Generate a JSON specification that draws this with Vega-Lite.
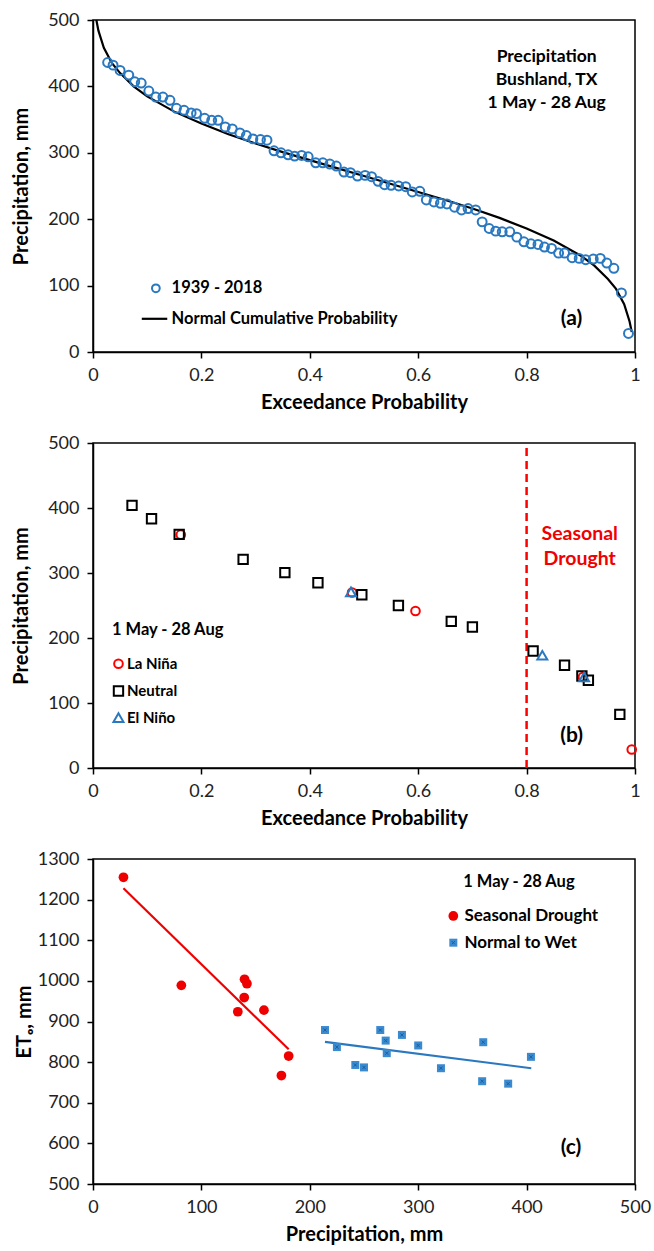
{
  "$schema": "https://vega.github.io/schema/vega-lite/v6.json",
  "background": "white",
  "padding": {"left": 10, "top": 10, "right": 10, "bottom": 5},
  "spacing": 91,
  "bounds": "flush",
  "config": {
    "font": "Lato",
    "view": {"stroke": "#000", "strokeWidth": 1.5},
    "axis": {
      "grid": false,
      "domainColor": "#000",
      "domainWidth": 1.5,
      "tickColor": "#000",
      "tickWidth": 1.5,
      "tickSize": 6,
      "labelFont": "Lato",
      "labelFontSize": 18,
      "labelColor": "#222",
      "labelPadding": 8,
      "labelFlush": false,
      "titleFont": "Lato",
      "titleFontSize": 20,
      "titleFontWeight": "bold",
      "titleColor": "#000"
    },
    "text": {"font": "Lato", "fontWeight": "bold", "color": "#000"}
  },
  "datasets": {
    "ranked": [
      {"prob": 0.027, "precip": 436}, {"prob": 0.037, "precip": 432}, {"prob": 0.05, "precip": 424},
      {"prob": 0.066, "precip": 417}, {"prob": 0.077, "precip": 407}, {"prob": 0.089, "precip": 405},
      {"prob": 0.103, "precip": 393}, {"prob": 0.116, "precip": 384}, {"prob": 0.129, "precip": 384},
      {"prob": 0.142, "precip": 379}, {"prob": 0.154, "precip": 367}, {"prob": 0.168, "precip": 364},
      {"prob": 0.181, "precip": 360}, {"prob": 0.191, "precip": 359}, {"prob": 0.206, "precip": 352},
      {"prob": 0.219, "precip": 349}, {"prob": 0.231, "precip": 349}, {"prob": 0.244, "precip": 339},
      {"prob": 0.257, "precip": 336}, {"prob": 0.271, "precip": 330}, {"prob": 0.283, "precip": 326},
      {"prob": 0.295, "precip": 321}, {"prob": 0.309, "precip": 320}, {"prob": 0.321, "precip": 319},
      {"prob": 0.334, "precip": 303}, {"prob": 0.347, "precip": 300}, {"prob": 0.36, "precip": 297},
      {"prob": 0.372, "precip": 295}, {"prob": 0.385, "precip": 296}, {"prob": 0.397, "precip": 294},
      {"prob": 0.411, "precip": 285}, {"prob": 0.424, "precip": 285}, {"prob": 0.437, "precip": 283},
      {"prob": 0.449, "precip": 280}, {"prob": 0.463, "precip": 271}, {"prob": 0.475, "precip": 270},
      {"prob": 0.488, "precip": 265}, {"prob": 0.502, "precip": 266}, {"prob": 0.514, "precip": 264},
      {"prob": 0.526, "precip": 257}, {"prob": 0.538, "precip": 252}, {"prob": 0.55, "precip": 251},
      {"prob": 0.564, "precip": 250}, {"prob": 0.577, "precip": 249}, {"prob": 0.589, "precip": 241},
      {"prob": 0.603, "precip": 242}, {"prob": 0.615, "precip": 229}, {"prob": 0.629, "precip": 226},
      {"prob": 0.641, "precip": 224}, {"prob": 0.653, "precip": 223}, {"prob": 0.667, "precip": 218},
      {"prob": 0.68, "precip": 214}, {"prob": 0.692, "precip": 216}, {"prob": 0.706, "precip": 214},
      {"prob": 0.718, "precip": 196}, {"prob": 0.731, "precip": 186}, {"prob": 0.743, "precip": 182},
      {"prob": 0.755, "precip": 181}, {"prob": 0.769, "precip": 181}, {"prob": 0.782, "precip": 173},
      {"prob": 0.795, "precip": 166}, {"prob": 0.808, "precip": 163}, {"prob": 0.821, "precip": 162},
      {"prob": 0.833, "precip": 158}, {"prob": 0.846, "precip": 156}, {"prob": 0.859, "precip": 149},
      {"prob": 0.87, "precip": 149}, {"prob": 0.884, "precip": 142}, {"prob": 0.897, "precip": 141},
      {"prob": 0.909, "precip": 139}, {"prob": 0.923, "precip": 140}, {"prob": 0.936, "precip": 141},
      {"prob": 0.948, "precip": 134}, {"prob": 0.961, "precip": 126}, {"prob": 0.975, "precip": 89},
      {"prob": 0.988, "precip": 28}
    ],
    "normalFit": [
      {"prob": 0.0062, "precip": 500}, {"prob": 0.01, "precip": 484}, {"prob": 0.02, "precip": 458},
      {"prob": 0.035, "precip": 435}, {"prob": 0.05, "precip": 420}, {"prob": 0.075, "precip": 400},
      {"prob": 0.1, "precip": 385}, {"prob": 0.15, "precip": 362}, {"prob": 0.2, "precip": 344},
      {"prob": 0.25, "precip": 328}, {"prob": 0.3, "precip": 314}, {"prob": 0.35, "precip": 301},
      {"prob": 0.4, "precip": 289}, {"prob": 0.45, "precip": 277}, {"prob": 0.5, "precip": 265},
      {"prob": 0.55, "precip": 253}, {"prob": 0.6, "precip": 241}, {"prob": 0.65, "precip": 229},
      {"prob": 0.7, "precip": 216}, {"prob": 0.75, "precip": 202}, {"prob": 0.8, "precip": 186},
      {"prob": 0.85, "precip": 168}, {"prob": 0.9, "precip": 145}, {"prob": 0.925, "precip": 130},
      {"prob": 0.95, "precip": 110}, {"prob": 0.965, "precip": 95}, {"prob": 0.98, "precip": 72},
      {"prob": 0.99, "precip": 46}, {"prob": 0.994, "precip": 30}
    ],
    "enso": [
      {"prob": 0.162, "precip": 359, "enso": "La Niña"},
      {"prob": 0.478, "precip": 270, "enso": "La Niña"},
      {"prob": 0.595, "precip": 241.5, "enso": "La Niña"},
      {"prob": 0.904, "precip": 140, "enso": "La Niña"},
      {"prob": 0.994, "precip": 28.5, "enso": "La Niña"},
      {"prob": 0.072, "precip": 404, "enso": "Neutral"},
      {"prob": 0.108, "precip": 383.5, "enso": "Neutral"},
      {"prob": 0.159, "precip": 359.5, "enso": "Neutral"},
      {"prob": 0.277, "precip": 321, "enso": "Neutral"},
      {"prob": 0.354, "precip": 300.5, "enso": "Neutral"},
      {"prob": 0.415, "precip": 285, "enso": "Neutral"},
      {"prob": 0.496, "precip": 266.5, "enso": "Neutral"},
      {"prob": 0.5635, "precip": 250, "enso": "Neutral"},
      {"prob": 0.661, "precip": 225.5, "enso": "Neutral"},
      {"prob": 0.7, "precip": 217, "enso": "Neutral"},
      {"prob": 0.812, "precip": 180, "enso": "Neutral"},
      {"prob": 0.87, "precip": 158, "enso": "Neutral"},
      {"prob": 0.902, "precip": 141.5, "enso": "Neutral"},
      {"prob": 0.914, "precip": 135, "enso": "Neutral"},
      {"prob": 0.972, "precip": 82.5, "enso": "Neutral"},
      {"prob": 0.476, "precip": 271, "enso": "El Niño"},
      {"prob": 0.829, "precip": 173.5, "enso": "El Niño"},
      {"prob": 0.906, "precip": 140, "enso": "El Niño"}
    ],
    "eto": [
      {"precip": 28.1, "eto": 1255, "group": "Seasonal Drought"},
      {"precip": 81.5, "eto": 989, "group": "Seasonal Drought"},
      {"precip": 139.8, "eto": 1004, "group": "Seasonal Drought"},
      {"precip": 142, "eto": 993, "group": "Seasonal Drought"},
      {"precip": 139.5, "eto": 959, "group": "Seasonal Drought"},
      {"precip": 133.6, "eto": 924, "group": "Seasonal Drought"},
      {"precip": 157.7, "eto": 928, "group": "Seasonal Drought"},
      {"precip": 180.5, "eto": 815, "group": "Seasonal Drought"},
      {"precip": 173.8, "eto": 767, "group": "Seasonal Drought"},
      {"precip": 214, "eto": 879, "group": "Normal to Wet"},
      {"precip": 225, "eto": 837, "group": "Normal to Wet"},
      {"precip": 242, "eto": 793, "group": "Normal to Wet"},
      {"precip": 250, "eto": 787, "group": "Normal to Wet"},
      {"precip": 265, "eto": 879, "group": "Normal to Wet"},
      {"precip": 270, "eto": 853, "group": "Normal to Wet"},
      {"precip": 271, "eto": 822, "group": "Normal to Wet"},
      {"precip": 285, "eto": 867, "group": "Normal to Wet"},
      {"precip": 300, "eto": 841, "group": "Normal to Wet"},
      {"precip": 321, "eto": 785, "group": "Normal to Wet"},
      {"precip": 359, "eto": 753, "group": "Normal to Wet"},
      {"precip": 360, "eto": 849, "group": "Normal to Wet"},
      {"precip": 383, "eto": 747, "group": "Normal to Wet"},
      {"precip": 404, "eto": 813, "group": "Normal to Wet"}
    ],
    "etoTrend": [
      {"precip": 28.1, "eto": 1228, "group": "Seasonal Drought"},
      {"precip": 180.5, "eto": 831.5, "group": "Seasonal Drought"},
      {"precip": 214, "eto": 850, "group": "Normal to Wet"},
      {"precip": 404.3, "eto": 785, "group": "Normal to Wet"}
    ]
  },
  "vconcat": [
    {
      "width": 542,
      "height": 332,
      "encoding": {
        "x": {"field": "prob", "type": "quantitative", "scale": {"domain": [0, 1], "nice": false},
              "axis": {"title": "Exceedance Probability", "values": [0, 0.2, 0.4, 0.6, 0.8, 1], "format": "~g", "titlePadding": 8}},
        "y": {"field": "precip", "type": "quantitative", "scale": {"domain": [0, 500], "nice": false},
              "axis": {"title": "Precipitation, mm", "values": [0, 100, 200, 300, 400, 500], "titlePadding": 16}}
      },
      "layer": [
        {"data": {"name": "normalFit"}, "mark": {"type": "line", "color": "#000", "strokeWidth": 2.2}},
        {"data": {"name": "ranked"}, "mark": {"type": "point", "shape": "circle", "filled": false, "color": "#2a78bf", "strokeWidth": 2, "size": 80, "opacity": 1}},
        {"data": {"values": [{"prob": 0.116, "precip": 96}]}, "mark": {"type": "point", "shape": "circle", "filled": false, "color": "#2a78bf", "strokeWidth": 2, "size": 60, "opacity": 1}},
        {"data": {"values": [{"prob": 0.09, "precip": 50}, {"prob": 0.137, "precip": 50}]}, "mark": {"type": "line", "color": "#000", "strokeWidth": 2.2}},
        {"data": {"values": [{"prob": 0.145, "precip": 96, "label": "1939 - 2018"}, {"prob": 0.145, "precip": 50, "label": "Normal Cumulative Probability"}]},
         "mark": {"type": "text", "align": "left", "baseline": "middle", "fontSize": 16.5}, "encoding": {"text": {"field": "label"}}},
        {"data": {"values": [{"prob": 0.883, "precip": 50, "label": "(a)"}]},
         "mark": {"type": "text", "baseline": "middle", "fontSize": 21}, "encoding": {"text": {"field": "label"}}},
        {"data": {"values": [{"prob": 0.837, "precip": 444, "label": "Precipitation"}, {"prob": 0.837, "precip": 409, "label": "Bushland, TX"}, {"prob": 0.837, "precip": 374.5, "label": "1 May - 28 Aug"}]},
         "mark": {"type": "text", "baseline": "middle", "fontSize": 17.5}, "encoding": {"text": {"field": "label"}}}
      ]
    },
    {
      "width": 542,
      "height": 325,
      "encoding": {
        "x": {"field": "prob", "type": "quantitative", "scale": {"domain": [0, 1], "nice": false},
              "axis": {"title": "Exceedance Probability", "values": [0, 0.2, 0.4, 0.6, 0.8, 1], "format": "~g", "titlePadding": 8}},
        "y": {"field": "precip", "type": "quantitative", "scale": {"domain": [0, 500], "nice": false},
              "axis": {"title": "Precipitation, mm", "values": [0, 100, 200, 300, 400, 500], "titlePadding": 16}}
      },
      "layer": [
        {"data": {"values": [{"prob": 0.8, "precip": 0, "top": 500}]},
         "mark": {"type": "rule", "color": "#ff0000", "strokeWidth": 2.5, "strokeDash": [8, 5]},
         "encoding": {"y2": {"field": "top"}}},
        {"data": {"name": "enso"},
         "mark": {"type": "point", "filled": false, "strokeWidth": 2, "opacity": 1},
         "encoding": {
           "color": {"field": "enso", "type": "nominal", "scale": {"domain": ["La Niña", "Neutral", "El Niño"], "range": ["#ff0000", "#000000", "#2a78bf"]}, "legend": null},
           "shape": {"field": "enso", "type": "nominal", "scale": {"domain": ["La Niña", "Neutral", "El Niño"], "range": ["circle", "square", "triangle-up"]}, "legend": null},
           "size": {"field": "enso", "type": "nominal", "scale": {"domain": ["La Niña", "Neutral", "El Niño"], "range": [75, 100, 85]}, "legend": null}
         }},
        {"data": {"values": [{"prob": 0.047, "precip": 160.4, "enso": "La Niña"}, {"prob": 0.047, "precip": 118.5, "enso": "Neutral"}, {"prob": 0.047, "precip": 77.4, "enso": "El Niño"}]},
         "mark": {"type": "point", "filled": false, "strokeWidth": 2, "opacity": 1},
         "encoding": {
           "color": {"field": "enso", "type": "nominal", "legend": null},
           "shape": {"field": "enso", "type": "nominal", "legend": null},
           "size": {"field": "enso", "type": "nominal", "legend": null}
         }},
        {"data": {"values": [{"prob": 0.0626, "precip": 160.4, "label": "La Niña"}, {"prob": 0.0626, "precip": 118.5, "label": "Neutral"}, {"prob": 0.0626, "precip": 77.4, "label": "El Niño"}]},
         "mark": {"type": "text", "align": "left", "baseline": "middle", "fontSize": 15}, "encoding": {"text": {"field": "label"}}},
        {"data": {"values": [{"prob": 0.035, "precip": 211.7, "label": "1 May - 28 Aug"}]},
         "mark": {"type": "text", "align": "left", "baseline": "middle", "fontSize": 16.5}, "encoding": {"text": {"field": "label"}}},
        {"data": {"values": [{"prob": 0.898, "precip": 360, "label": "Seasonal"}, {"prob": 0.898, "precip": 322, "label": "Drought"}]},
         "mark": {"type": "text", "baseline": "middle", "fontSize": 19.5, "color": "#f00000"}, "encoding": {"text": {"field": "label"}}},
        {"data": {"values": [{"prob": 0.883, "precip": 50, "label": "(b)"}]},
         "mark": {"type": "text", "baseline": "middle", "fontSize": 21}, "encoding": {"text": {"field": "label"}}}
      ]
    },
    {
      "width": 542,
      "height": 325,
      "encoding": {
        "x": {"field": "precip", "type": "quantitative", "scale": {"domain": [0, 500], "nice": false},
              "axis": {"title": "Precipitation, mm", "values": [0, 100, 200, 300, 400, 500], "titlePadding": 8}},
        "y": {"field": "eto", "type": "quantitative", "scale": {"domain": [500, 1300], "nice": false, "zero": false},
              "axis": {"title": "ETₒ, mm", "format": "d", "values": [500, 600, 700, 800, 900, 1000, 1100, 1200, 1300], "titlePadding": 3}}
      },
      "layer": [
        {"data": {"name": "etoTrend"}, "transform": [{"filter": "datum.group === 'Seasonal Drought'"}],
         "mark": {"type": "line", "strokeWidth": 2.2, "color": "#ee0000"}},
        {"data": {"name": "etoTrend"}, "transform": [{"filter": "datum.group === 'Normal to Wet'"}],
         "mark": {"type": "line", "strokeWidth": 2.2, "color": "#2a78bf"}},
        {"data": {"name": "eto"}, "transform": [{"filter": "datum.group === 'Seasonal Drought'"}],
         "mark": {"type": "point", "shape": "circle", "filled": true, "color": "#ee0000", "size": 95, "opacity": 1}},
        {"data": {"name": "eto"}, "transform": [{"filter": "datum.group === 'Normal to Wet'"}],
         "mark": {"type": "point", "shape": "square", "filled": true, "color": "#3a8ad0", "size": 64, "opacity": 1}},
        {"data": {"name": "eto"}, "transform": [{"filter": "datum.group === 'Normal to Wet'"}],
         "mark": {"type": "point", "shape": "M-0.5,-0.5L0.5,0.5M-0.5,0.5L0.5,-0.5", "filled": false, "color": "#1d5d9b", "strokeWidth": 1, "size": 40, "opacity": 1}},
        {"data": {"values": [{"precip": 332.4, "eto": 1159.7}]},
         "mark": {"type": "point", "shape": "circle", "filled": true, "color": "#ee0000", "size": 95, "opacity": 1}},
        {"data": {"values": [{"precip": 332.4, "eto": 1094}]},
         "mark": {"type": "point", "shape": "square", "filled": true, "color": "#3a8ad0", "size": 64, "opacity": 1}},
        {"data": {"values": [{"precip": 332.4, "eto": 1094}]},
         "mark": {"type": "point", "shape": "M-0.5,-0.5L0.5,0.5M-0.5,0.5L0.5,-0.5", "filled": false, "color": "#1d5d9b", "strokeWidth": 1, "size": 40, "opacity": 1}},
        {"data": {"values": [{"precip": 342.6, "eto": 1159.7, "label": "Seasonal Drought"}, {"precip": 342.6, "eto": 1094, "label": "Normal to Wet"}]},
         "mark": {"type": "text", "align": "left", "baseline": "middle", "fontSize": 17}, "encoding": {"text": {"field": "label"}}},
        {"data": {"values": [{"precip": 392.9, "eto": 1242.6, "label": "1 May - 28 Aug"}]},
         "mark": {"type": "text", "baseline": "middle", "fontSize": 16.5}, "encoding": {"text": {"field": "label"}}},
        {"data": {"values": [{"precip": 441, "eto": 588, "label": "(c)"}]},
         "mark": {"type": "text", "baseline": "middle", "fontSize": 21}, "encoding": {"text": {"field": "label"}}}
      ]
    }
  ]
}
